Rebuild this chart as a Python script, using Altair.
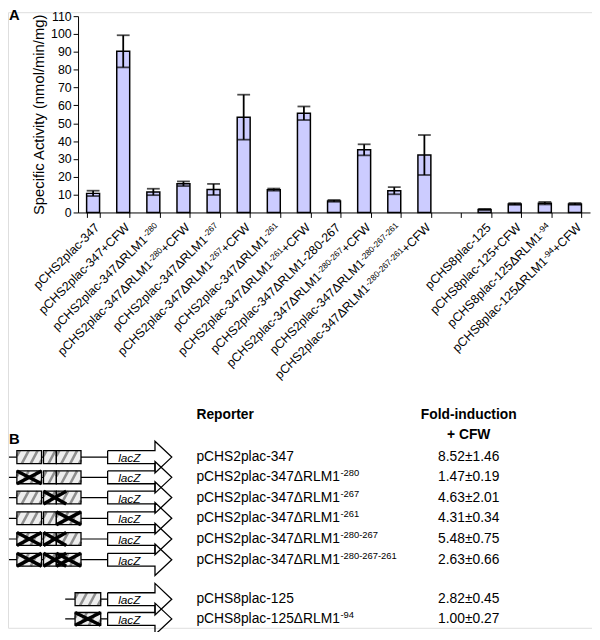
import altair as alt
import pandas as pd

FONT = "Liberation Sans, Arial, Helvetica, sans-serif"

# ---------------- Panel A data ----------------
# "^...^" marks the superscript part of a name
top_labels = [
    "pCHS2plac-347",
    "pCHS2plac-347+CFW",
    "pCHS2plac-347ΔRLM1^-280^",
    "pCHS2plac-347ΔRLM1^-280^+CFW",
    "pCHS2plac-347ΔRLM1^-267^",
    "pCHS2plac-347ΔRLM1^-267^+CFW",
    "pCHS2plac-347ΔRLM1^-261^",
    "pCHS2plac-347ΔRLM1^-261^+CFW",
    "pCHS2plac-347ΔRLM1-280-267",
    "pCHS2plac-347ΔRLM1^-280-267^+CFW",
    "pCHS2plac-347ΔRLM1^-280-267-261^",
    "pCHS2plac-347ΔRLM1^-280-267-261^+CFW",
    " ",
    "pCHS8plac-125",
    "pCHS8plac-125+CFW",
    "pCHS8plac-125ΔRLM1^-94^",
    "pCHS8plac-125ΔRLM1^-94^+CFW",
]
activity = [10.7, 90.3, 11.5, 16.1, 12.9, 53.4, 12.8, 55.6, 6.5, 35.1, 12.2, 32.2,
            None, 1.7, 4.8, 5.2, 4.8]
activity_err = [1.5, 9.0, 1.8, 1.3, 3.1, 12.6, 0.6, 3.8, 0.5, 3.1, 2.0, 11.2,
                None, 0.3, 0.5, 0.7, 0.5]
y_ticks = list(range(0, 111, 10))

# ---------------- Panel B data ----------------
reporters = [
    "pCHS2plac-347",
    "pCHS2plac-347ΔRLM1^-280^",
    "pCHS2plac-347ΔRLM1^-267^",
    "pCHS2plac-347ΔRLM1^-261^",
    "pCHS2plac-347ΔRLM1^-280-267^",
    "pCHS2plac-347ΔRLM1^-280-267-261^",
    "pCHS8plac-125",
    "pCHS8plac-125ΔRLM1^-94^",
]
fold_induction = ["8.52±1.46", "1.47±0.19", "4.63±2.01", "4.31±0.34",
                  "5.48±0.75", "2.63±0.66", "2.82±0.45", "1.00±0.27"]
promoter = ["CHS2"] * 6 + ["CHS8"] * 2
deleted = [[], ["-280"], ["-267"], ["-261"], ["-280", "-267"],
           ["-280", "-267", "-261"], [], ["-94"]]

# ---------------- layout ----------------
W, H = 592, 624
row_y = [459, 479.5, 500, 521, 542, 563, 603, 623]
element_span = {"-280": (17, 42), "-267": (44, 67), "-261": (57, 82), "-94": (76, 102)}
box_outline = {"CHS2": [(17, 42), (44, 57), (57, 82)], "CHS8": [(76, 102)]}
line_start = {"CHS2": 9, "CHS8": 66}
LACZ0, LACZ1, TIP = 109, 157, 174
BOX_H, HEAD_H = 6.5, 16

# approximate advance widths (em) of the sans-serif face, for placing superscripts
ADV = {'p': .556, 'C': .722, 'H': .722, 'S': .667, 'l': .222, 'a': .556, 'c': .5, '-': .333,
       'Δ': .668, 'R': .722, 'L': .556, 'M': .833, '+': .584, 'F': .611, 'W': .944}


def tw(s, size):
    return sum(ADV.get(ch, .556) for ch in s) * size


def split(s):
    parts = s.split("^")
    return (parts + ["", ""])[:3]


# ---------------- Panel A chart ----------------
bar_df = pd.DataFrame({"construct": top_labels, "activity": activity, "err": activity_err})
bar_df["lo"] = bar_df["activity"] - bar_df["err"]
bar_df["hi"] = bar_df["activity"] + bar_df["err"]
caps_df = pd.concat([
    bar_df[["construct", "lo"]].rename(columns={"lo": "v"}),
    bar_df[["construct", "hi"]].rename(columns={"hi": "v"}),
]).dropna()

x_scale = alt.Scale(domain=top_labels, range=[71, 590], paddingInner=0.57, paddingOuter=0.285)
y_scale = alt.Scale(domain=[0, 110], range=[203, 4], nice=False, zero=False)
x_axis = alt.Axis(title=None, labels=False, tickBand="extent", tickSize=5, offset=-(H - 203),
                  domainColor="black", tickColor="black")
y_axis = alt.Axis(title="Specific Activity (nmol/min/mg)", values=y_ticks, grid=False,
                  offset=-71, tickSize=5, domainColor="black", tickColor="black",
                  labelColor="black", labelFontSize=12.5, titleFontSize=15,
                  titleFontWeight="normal", titleColor="black", titlePadding=4,
                  labelFont=FONT, titleFont=FONT)
XB = alt.X("construct:N", scale=x_scale, axis=x_axis, sort=None)

bars = alt.Chart(bar_df).mark_bar(fill="#ccccff", stroke="black", strokeWidth=1.5).encode(
    x=XB, y=alt.Y("activity:Q", scale=y_scale, axis=y_axis))
errs = alt.Chart(bar_df).mark_rule(color="black", strokeWidth=1.8).encode(
    x=XB, y=alt.Y("lo:Q", scale=y_scale, axis=y_axis), y2="hi:Q")
caps = alt.Chart(caps_df).mark_tick(color="black", thickness=1.8, size=13).encode(
    x=XB, y=alt.Y("v:Q", scale=y_scale, axis=y_axis))

# rotated category labels with real superscripts
LF, SF = 12.5, 8.5
pieces = []
for lab in top_labels:
    pre, sup, suf = split(lab)
    wsuf = tw(suf, LF)
    wsup = tw(sup, SF) + (0.5 if sup else 0)
    if suf:
        pieces.append(dict(construct=lab, t=suf, kind="n", dx=0.0))
    if sup:
        pieces.append(dict(construct=lab, t=sup, kind="s", dx=-round(wsuf, 1)))
    if pre.strip():
        pieces.append(dict(construct=lab, t=pre, kind="n", dx=-round(wsuf + wsup, 1)))
pieces_df = pd.DataFrame(pieces)
label_layers = []
for (kind, dxv), g in pieces_df.groupby(["kind", "dx"]):
    label_layers.append(
        alt.Chart(g).mark_text(angle=315, align="right", baseline="top", dx=dxv,
                               dy=(-0.5 if kind == "s" else 0),
                               fontSize=(SF if kind == "s" else LF), font=FONT,
                               color="black").encode(
            x=XB, y=alt.value(212), text="t:N"))

panel_a = alt.layer(bars, errs, caps, *label_layers)

# ---------------- Panel B geometry built from the data ----------------
lines, boxes, stripes, crosses, arrows, lacz = [], [], [], [], [], []
for r, (p, yc) in enumerate(zip(promoter, row_y)):
    lines.append(dict(x=line_start[p], x2=LACZ0, y=yc, y2=yc))
    for (x0, x1) in box_outline[p]:
        boxes.append(dict(x=x0, x2=x1, y=yc - BOX_H, y2=yc + BOX_H))
        slant, gap = 7, 9
        s = x0 - slant + 3
        while s < x1:
            t0 = max(0.0, (x0 - s) / slant)
            t1 = min(1.0, (x1 - s) / slant)
            if t1 > t0:
                stripes.append(dict(x=s + slant * t0, y=yc + BOX_H - 2 * BOX_H * t0,
                                    x2=s + slant * t1, y2=yc + BOX_H - 2 * BOX_H * t1))
            s += gap
    for e in deleted[r]:
        x0, x1 = element_span[e]
        crosses.append(dict(x=x0, y=yc - BOX_H, x2=x1, y2=yc + BOX_H))
        crosses.append(dict(x=x0, y=yc + BOX_H, x2=x1, y2=yc - BOX_H))
    outline = [(LACZ0, yc - BOX_H), (LACZ1, yc - BOX_H), (LACZ1, yc - HEAD_H), (TIP, yc),
               (LACZ1, yc + HEAD_H), (LACZ1, yc + BOX_H), (LACZ0, yc + BOX_H), (LACZ0, yc - BOX_H)]
    for k, (xx, yy) in enumerate(outline):
        arrows.append(dict(row=r, k=k, x=xx, y=yy))
    lacz.append(dict(x=(LACZ0 + LACZ1) / 2 - 2, y=yc + 1, t="lacZ"))

dx = alt.Scale(domain=[0, 600], range=[-8, 592], nice=False, zero=False)
dy = alt.Scale(domain=[0, 640], range=[-8, 632], nice=False, zero=False)


def X(f):
    return alt.X(f, scale=dx, axis=None)


def Y(f):
    return alt.Y(f, scale=dy, axis=None, stack=None)


seg_enc = dict(x=X("x:Q"), y=Y("y:Q"), x2="x2:Q", y2="y2:Q")
l_lines = alt.Chart(pd.DataFrame(lines)).mark_rule(color="black", strokeWidth=1.2).encode(**seg_enc)
l_boxfill = alt.Chart(pd.DataFrame(boxes)).mark_rect(fill="#eeeeee").encode(**seg_enc)
l_stripes = alt.Chart(pd.DataFrame(stripes)).mark_rule(color="#8f8f8f", strokeWidth=2.6).encode(**seg_enc)
l_boxline = alt.Chart(pd.DataFrame(boxes)).mark_rect(fillOpacity=0, stroke="black", strokeWidth=1.3).encode(**seg_enc)
l_cross = alt.Chart(pd.DataFrame(crosses)).mark_rule(color="black", strokeWidth=3.5).encode(**seg_enc)
l_arrow = alt.Chart(pd.DataFrame(arrows)).mark_line(color="black", strokeWidth=1.3).encode(
    x=X("x:Q"), y=Y("y:Q"), detail="row:N", order="k:Q")
l_lacz = alt.Chart(pd.DataFrame(lacz)).mark_text(fontStyle="italic", fontSize=12, font=FONT,
                                                  baseline="middle", color="black").encode(
    x=X("x:Q"), y=Y("y:Q"), text="t:N")

RF, RSF = 14, 9.5
rep_main, rep_sup = [], []
for lab, yc in zip(reporters, row_y):
    pre, sup, _ = split(lab)
    rep_main.append(dict(x=199, y=yc, t=pre))
    if sup:
        rep_sup.append(dict(x=199 + tw(pre, RF) + 0.5, y=yc - 4, t=sup))
l_rep = alt.Chart(pd.DataFrame(rep_main)).mark_text(align="left", baseline="middle", fontSize=RF,
                                                    font=FONT, color="black").encode(
    x=X("x:Q"), y=Y("y:Q"), text="t:N")
l_rep_sup = alt.Chart(pd.DataFrame(rep_sup)).mark_text(align="left", baseline="middle", fontSize=RSF,
                                                       font=FONT, color="black").encode(
    x=X("x:Q"), y=Y("y:Q"), text="t:N")
fold_df = pd.DataFrame({"x": 475, "y": row_y, "t": fold_induction})
l_fold = alt.Chart(fold_df).mark_text(align="center", baseline="middle", fontSize=14, font=FONT,
                                      color="black").encode(x=X("x:Q"), y=Y("y:Q"), text="t:N")
head_df = pd.DataFrame({"x": [199, 475, 475], "y": [416, 416, 437],
                        "t": ["Reporter", "Fold-induction", "+ CFW"]})
l_head_l = alt.Chart(head_df.iloc[:1]).mark_text(align="left", baseline="middle", fontSize=14,
                                                 fontWeight="bold", font=FONT, color="black").encode(
    x=X("x:Q"), y=Y("y:Q"), text="t:N")
l_head_c = alt.Chart(head_df.iloc[1:]).mark_text(align="center", baseline="middle", fontSize=14,
                                                 fontWeight="bold", font=FONT, color="black").encode(
    x=X("x:Q"), y=Y("y:Q"), text="t:N")
panel_letters = pd.DataFrame({"x": [9, 9], "y": [11, 441], "t": ["A", "B"]})
l_letters = alt.Chart(panel_letters).mark_text(align="left", baseline="middle", fontSize=15,
                                               fontWeight="bold", font=FONT, color="black").encode(
    x=X("x:Q"), y=Y("y:Q"), text="t:N")

panel_b = alt.layer(l_lines, l_boxfill, l_stripes, l_boxline, l_cross, l_arrow, l_lacz,
                    l_rep, l_rep_sup, l_fold, l_head_l, l_head_c, l_letters)

chart = alt.layer(panel_a, panel_b).resolve_scale(
    x="independent", y="independent"
).properties(
    width=W, height=H, padding=0, autosize=alt.AutoSizeParams(type="none")
).configure_view(stroke=None).configure(font=FONT)

chart.save("out.html", embed_options={"renderer": "svg", "actions": False})
